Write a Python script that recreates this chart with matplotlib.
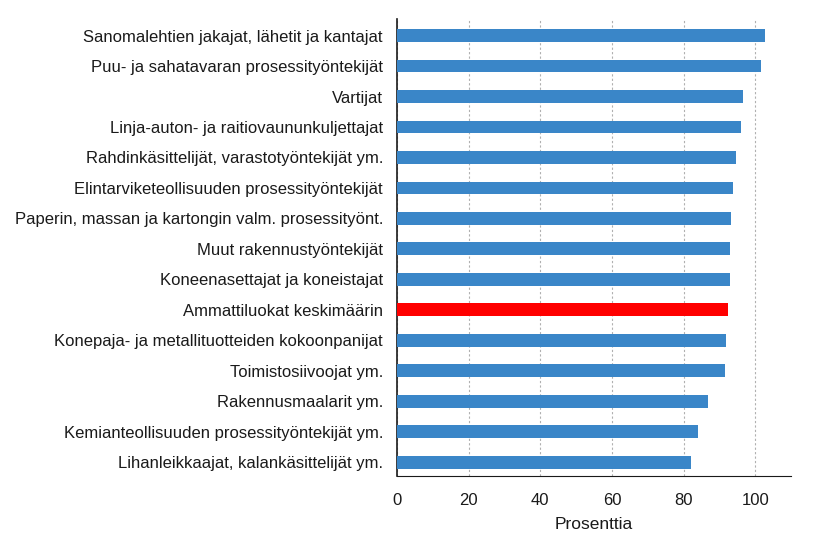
import matplotlib
matplotlib.use("Agg")
import matplotlib.pyplot as plt

labels = [
    "Sanomalehtien jakajat, lähetit ja kantajat",
    "Puu- ja sahatavaran prosessityöntekijät",
    "Vartijat",
    "Linja-auton- ja raitiovaununkuljettajat",
    "Rahdinkäsittelijät, varastotyöntekijät ym.",
    "Elintarviketeollisuuden prosessityöntekijät",
    "Paperin, massan ja kartongin valm. prosessityönt.",
    "Muut rakennustyöntekijät",
    "Koneenasettajat ja koneistajat",
    "Ammattiluokat keskimäärin",
    "Konepaja- ja metallituotteiden kokoonpanijat",
    "Toimistosiivoojat ym.",
    "Rakennusmaalarit ym.",
    "Kemianteollisuuden prosessityöntekijät ym.",
    "Lihanleikkaajat, kalankäsittelijät ym.",
]
values = [102.6, 101.7, 96.6, 95.9, 94.7, 93.8, 93.1, 93.0, 92.8, 92.3,
          91.9, 91.5, 86.8, 84.0, 82.0]
highlight = "Ammattiluokat keskimäärin"

plt.rcParams['font.family'] = ['Liberation Sans', 'DejaVu Sans']

fig = plt.figure(figsize=(8.25, 5.54), dpi=100)
ax = fig.add_axes([0.481, 0.141, 0.478, 0.825])

colors = ["#ff0000" if l == highlight else "#3a86c8" for l in labels]
pos = list(range(len(labels)))
ax.barh(pos, values, height=0.42, color=colors, zorder=3)

ax.set_ylim(len(labels) - 0.55, -0.55)
ax.set_xlim(0, 110)
ax.set_xticks([0, 20, 40, 60, 80, 100])
ax.set_yticks(pos)
ax.set_yticklabels(labels)
ax.tick_params(axis='y', length=0, pad=10, labelsize=12, labelcolor="#1a1a1a")
ax.tick_params(axis='x', length=0, pad=12, labelsize=12, labelcolor="#1a1a1a")
ax.set_xlabel("Prosenttia", fontsize=12.5, color="#1a1a1a", labelpad=7)

ax.grid(axis='x', color="#b0b0b0", linestyle=(0, (2, 2)), linewidth=0.8, zorder=0)
for s in ["top", "right"]:
    ax.spines[s].set_visible(False)
ax.spines["left"].set_color("#1a1a1a")
ax.spines["bottom"].set_color("#1a1a1a")
ax.spines["left"].set_linewidth(1.2)

fig.savefig("out.png", dpi=100)
